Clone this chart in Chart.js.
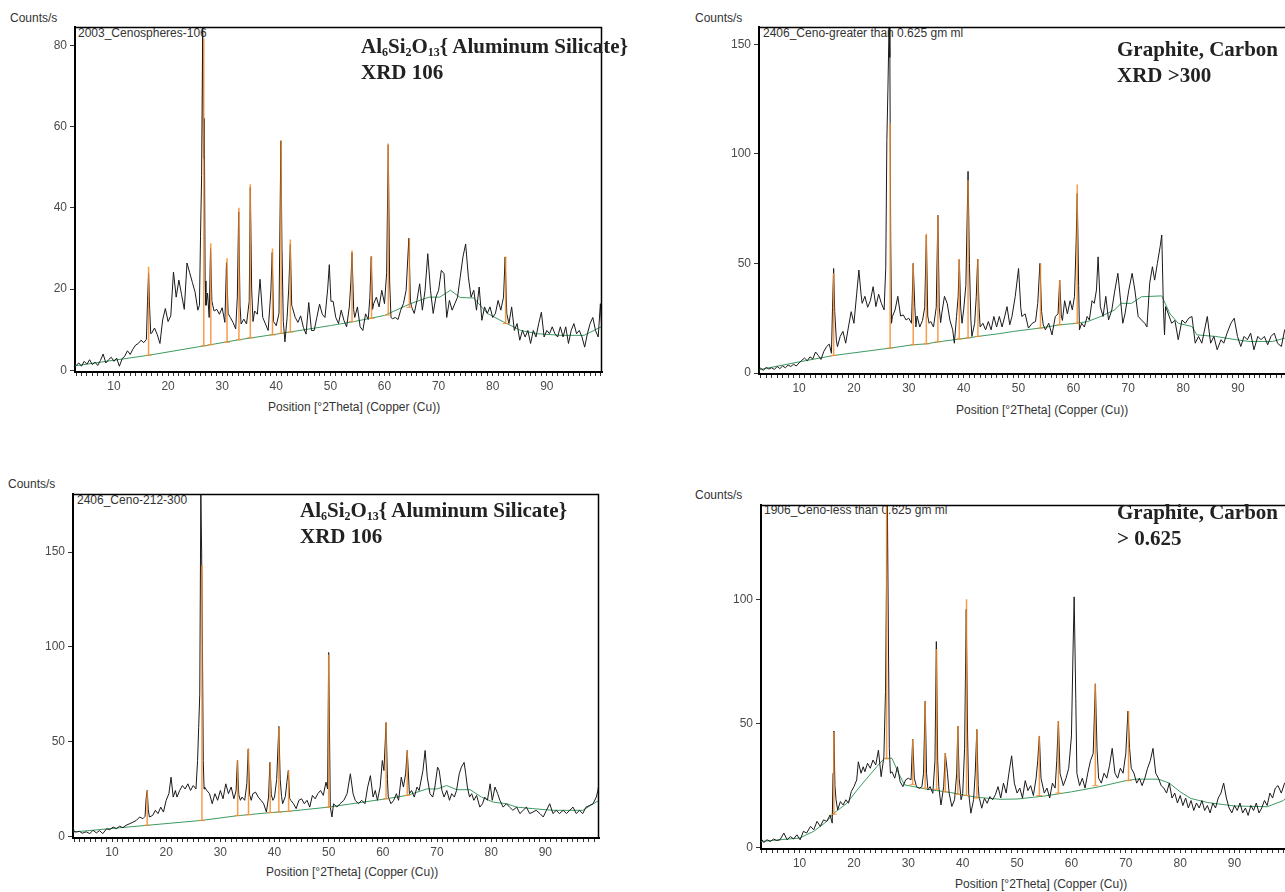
<!DOCTYPE html>
<html>
<head>
<meta charset="utf-8">
<script src="https://cdn.jsdelivr.net/npm/chart.js@4.4.1/dist/chart.umd.min.js"></script>
<style>
  body { margin: 0; width: 1285px; height: 892px; overflow: hidden; background: #fff; font-family: 'Liberation Sans', Arial, sans-serif; }
  .painel { position: absolute; z-index: 2; }
  .rotulo { position: absolute; font-size: 12px; line-height: 14px; color: #333; white-space: nowrap; z-index: 1; }
  .fase { position: absolute; font-family: 'Liberation Serif', 'Times New Roman', serif; font-weight: bold; font-size: 21px; line-height: 26px; color: #222; white-space: nowrap; z-index: 3; }
  .fase sub { font-size: 12px; line-height: 0; vertical-align: -3px; }
</style>
</head>
<body>

<div class="rotulo" style="left:10px; top:11px;">Counts/s</div>
<div class="rotulo" style="left:78px; top:26px;">2003_Cenospheres-106</div>
<div class="rotulo" style="left:268px; top:400px;">Position [°2Theta] (Copper (Cu))</div>
<div class="fase" style="left:361px; top:33px;">Al<sub>6</sub>Si<sub>2</sub>O<sub>13</sub>{ Aluminum Silicate}<br>XRD 106</div>

<div class="rotulo" style="left:695px; top:11px;">Counts/s</div>
<div class="rotulo" style="left:763px; top:26px;">2406_Ceno-greater than 0.625 gm ml</div>
<div class="rotulo" style="left:956px; top:403px;">Position [°2Theta] (Copper (Cu))</div>
<div class="fase" style="left:1117px; top:36px;">Graphite, Carbon<br>XRD &gt;300</div>

<div class="rotulo" style="left:8px; top:477px;">Counts/s</div>
<div class="rotulo" style="left:77px; top:493px;">2406_Ceno-212-300</div>
<div class="rotulo" style="left:266px; top:865px;">Position [°2Theta] (Copper (Cu))</div>
<div class="fase" style="left:300px; top:497px;">Al<sub>6</sub>Si<sub>2</sub>O<sub>13</sub>{ Aluminum Silicate}<br>XRD 106</div>

<div class="rotulo" style="left:695px; top:488px;">Counts/s</div>
<div class="rotulo" style="left:764px; top:503px;">1906_Ceno-less than 0.625 gm ml</div>
<div class="rotulo" style="left:955px; top:877px;">Position [°2Theta] (Copper (Cu))</div>
<div class="fase" style="left:1117px; top:499px;">Graphite, Carbon<br>&gt; 0.625</div>

<script>
// ==================== DIFFRACTOGRAMS ====================
// scan = [2theta, counts/s], background = [2theta, counts/s], sticks = reference peak lines

// --- 2003_Cenospheres-106 ---
const scan1 = [[2.8,1.5],[3.0,1.2],[3.5,1.8],[4.0,1.0],[4.5,2.2],[5.0,1.5],[5.5,2.6],[6.0,1.4],[6.5,2.0],[7.0,1.2],[7.5,2.4],[8.0,4.0],[8.5,1.8],[9.0,2.6],[9.5,3.2],[10.0,2.2],[10.5,3.0],[11.0,1.0],[11.5,2.8],[12.0,3.5],[12.5,4.8],[13.0,3.9],[13.5,5.2],[14.0,6.2],[14.5,6.6],[15.0,7.4],[15.5,6.8],[16.0,7.6],[16.2,17],[16.4,24],[16.6,15],[16.8,9],[17.0,9.2],[17.5,10.4],[18.0,8.8],[18.5,6.6],[19.0,12.4],[19.5,15.2],[20.0,12.0],[20.5,13.4],[21.0,24.2],[21.5,18.0],[22.0,22.2],[22.5,18.6],[23.0,15.0],[23.5,26.4],[24.0,24.0],[24.5,21.6],[25.0,19.2],[25.5,14.8],[25.8,16],[26.0,33],[26.2,48],[26.4,84.5],[26.55,52],[26.7,62],[26.85,22],[27.0,16],[27.3,19],[27.6,13],[27.85,30],[28.1,17],[28.5,14.6],[29.0,15],[29.5,13.8],[30.0,15.4],[30.5,11.8],[30.8,26.5],[31.1,14],[31.5,13],[32.0,11.8],[32.5,10.2],[32.8,18],[33.05,39],[33.3,16],[33.5,11.4],[34.0,12.6],[34.5,11.4],[35.0,17],[35.2,45],[35.45,20],[35.7,12],[36.0,14.6],[36.5,13.8],[37.0,22.4],[37.5,13],[38.0,11.4],[38.5,9.8],[39.0,19.5],[39.25,29],[39.5,12],[40.0,11],[40.5,14],[40.85,56.5],[41.05,30],[41.3,12],[41.6,7],[42.0,13],[42.3,20],[42.6,31],[42.85,16],[43.0,15.4],[43.5,13],[44.0,11.8],[44.5,13.4],[45.0,10.6],[45.5,8.9],[46.0,16.7],[46.5,9.8],[47.0,9.8],[47.5,13],[48.0,16.3],[48.5,13.8],[49.0,13],[49.5,20],[49.8,26],[50.1,17],[50.5,17],[51.0,13],[51.5,11.5],[52.0,14.8],[52.5,12.3],[53.0,10.7],[53.5,15.6],[53.8,22],[54.0,29],[54.3,15],[54.5,13],[55.0,15.6],[55.5,10.7],[56.0,9.8],[56.5,13.9],[57.0,12.5],[57.3,18],[57.55,28],[57.8,15],[58.0,16.4],[58.5,18],[59.0,15.6],[59.5,19.7],[60.0,16.4],[60.4,24],[60.7,55.5],[60.95,22],[61.2,13],[61.5,12.7],[62.0,13],[62.5,12.5],[63.0,14.8],[63.5,16.4],[64.0,19.7],[64.5,32.5],[64.8,17],[65.0,15.6],[65.5,14],[66.0,17.2],[66.5,21.3],[67.0,14.8],[67.5,19.7],[68.0,28.7],[68.5,19.7],[69.0,14],[69.5,18],[70.0,19.7],[70.5,24.6],[71.0,23.8],[71.5,13],[72.0,17.2],[72.5,14.8],[73.0,16.4],[73.5,18],[74.0,23],[74.5,27.9],[75.0,31.1],[75.5,23],[76.0,18],[76.5,19.7],[77.0,14.8],[77.5,20.5],[78.0,12.3],[78.5,15.6],[79.0,14],[79.5,15.6],[80.0,13],[80.5,14],[81.0,17.2],[81.5,14.8],[82.0,18],[82.3,27.9],[82.6,14],[83.0,11.5],[83.5,15.6],[84.0,9.8],[84.5,11.5],[85.0,7.4],[85.5,9.8],[86.0,8.2],[86.5,9.8],[87.0,6.6],[87.5,9.8],[88.0,8.2],[88.5,11.5],[89.0,14.3],[89.5,8.2],[90.0,9.8],[90.5,9],[91.0,10.7],[91.5,9],[92.0,8.2],[92.5,10.7],[93.0,8.2],[93.5,10.7],[94.0,6.6],[94.5,9.8],[95.0,11.5],[95.5,9],[96.0,9.8],[96.5,8.2],[97.0,5.7],[97.5,9],[98.0,11.5],[98.5,13],[99.0,9.8],[99.5,8.2],[99.9,16.4],[100.2,9]];
const background1 = [[2.8,1.1],[16.4,3.7],[26.6,6.0],[33.0,7.5],[41.0,9.1],[50.0,11.0],[54.4,12.0],[60.0,13.5],[64.8,16.4],[68.2,18.0],[70.2,18.0],[72.2,19.7],[74.0,17.9],[76.5,17.8],[79.0,14.0],[82.0,11.9],[85.2,9.8],[88.3,9.0],[92.6,8.6],[96.9,8.6],[100.2,10.8]];
const sticksPos1 = [16.4, 26.6, 27.9, 30.9, 33.1, 35.2, 39.3, 40.9, 42.6, 54.0, 57.6, 60.7, 64.6, 82.4];
const sticksBase1 = [3.7, 6.0, 6.3, 6.9, 7.5, 8.0, 8.7, 9.1, 9.4, 12.0, 12.8, 13.6, 15.5, 11.5];
const sticksTop1 = [25.5, 81.6, 31.3, 27.6, 40.0, 45.8, 30.0, 56.5, 32.2, 29.5, 28.0, 55.8, 32.5, 28.0];

// --- 2406_Ceno-greater than 0.625 gm ml ---
const scan2 = [[2.7,1.5],[3.0,2.2],[3.5,1.2],[4.0,2.6],[4.5,1.8],[5.0,2.4],[5.5,1.6],[6.0,3.0],[6.5,2.0],[7.0,3.2],[7.5,2.4],[8.0,3.6],[8.5,3.0],[9.0,4.0],[9.5,3.2],[10.0,4.6],[10.5,5.8],[11.0,6.8],[11.5,5.6],[12.0,7.4],[12.5,6.4],[13.0,9.6],[13.5,8.0],[14.0,6.2],[14.5,9.8],[15.0,12.0],[15.5,13.2],[15.9,9],[16.1,30],[16.3,47.7],[16.5,28],[16.8,15],[17.0,12],[17.5,16.7],[18.0,19],[18.5,13.6],[19.0,21],[19.5,28],[20.0,22.7],[20.5,36],[20.9,47],[21.3,36],[21.5,31.8],[22.0,35],[22.5,30],[23.0,33],[23.5,39.4],[24.0,30.3],[24.5,36],[25.0,31.8],[25.5,28.8],[25.8,48],[26.0,106],[26.2,130],[26.4,159],[26.55,144],[26.7,62],[26.85,22.7],[27.0,25.7],[27.5,28.8],[28.0,35],[28.5,26],[29.0,26.5],[29.5,24.2],[30.0,25],[30.5,22.7],[30.8,50],[31.1,30],[31.3,21],[31.5,26],[32.0,21],[32.5,24],[32.9,30],[33.2,63],[33.45,26],[33.7,22.7],[34.0,23.5],[34.5,21],[35.0,30],[35.3,72],[35.55,30],[35.8,23],[36.0,27],[36.5,35],[37.0,31.8],[37.5,24],[38.0,19.7],[38.3,13.6],[38.7,25.8],[39.0,35],[39.2,51.8],[39.45,30],[39.7,22.7],[40.0,28.8],[40.4,40],[40.8,92],[41.05,50],[41.3,25],[41.5,16.7],[42.0,22.7],[42.3,35],[42.55,52],[42.8,30],[43.0,21],[43.5,22.7],[44.0,19.7],[44.5,23.5],[45.0,19.7],[45.5,25.8],[46.0,21],[46.5,25.8],[47.0,21],[47.5,26],[47.9,30.3],[48.4,22],[48.8,25.8],[49.4,35],[50.0,47.7],[50.4,30],[50.6,25.8],[51.2,27],[51.8,20.5],[52.5,22.7],[53.1,23.5],[53.5,31.8],[53.9,50],[54.2,28],[54.5,22],[54.9,19.7],[55.5,22.7],[56.1,17.4],[56.7,25.8],[57.2,27],[57.5,42.4],[57.8,26],[58.0,24],[58.4,33],[58.9,27],[59.4,33],[59.8,28.8],[60.2,35],[60.5,60],[60.7,82],[60.95,40],[61.1,19.7],[61.5,22.7],[62.0,21],[62.5,25.8],[62.9,24.2],[63.4,33],[63.8,31.8],[64.2,37.9],[64.5,53],[64.9,30.3],[65.4,25.8],[65.9,35],[66.4,24.2],[67.0,28.8],[67.5,37],[68.1,45.5],[68.6,33],[69.0,22.7],[69.4,27],[70.1,37.9],[70.7,45.5],[71.2,37.9],[71.8,25.8],[72.4,24.2],[73.0,22.7],[73.4,21],[73.9,41],[74.4,48.5],[74.8,42.4],[75.3,50],[75.8,57.6],[76.1,63],[76.4,30],[76.6,17.4],[76.8,30.3],[77.3,27],[77.9,22.7],[78.5,24],[79.1,15.2],[79.8,24.2],[80.4,22.7],[81.0,25],[81.6,25.8],[82.2,13.6],[82.8,16.7],[83.4,13.6],[84.4,25.8],[85.0,13.6],[85.6,16.7],[86.2,10.6],[86.9,15.2],[87.4,13.6],[88.0,18.2],[88.7,22.7],[89.3,25],[89.9,16.7],[90.5,12.1],[91.1,16.7],[91.7,15.2],[92.3,18.2],[92.9,10.6],[93.6,16.7],[94.2,15.2],[94.8,16.7],[95.4,12.9],[96.0,16.7],[96.6,18.2],[97.2,13.6],[97.9,12.1],[98.5,19.7],[99.1,18.2],[99.6,15],[100.2,17]];
const background2 = [[2.7,1.5],[10.5,5.3],[16.3,8.0],[26.7,11.4],[30.8,12.9],[33.2,13.3],[35.3,14.2],[39.2,15.5],[40.8,16.0],[42.6,16.7],[46.6,18.0],[49.1,19.0],[53.9,20.5],[57.5,22.0],[60.7,22.7],[62.6,23.5],[65.0,25.8],[67.5,28.8],[68.7,31.8],[70.6,31.8],[72.4,34.8],[76.1,35.2],[77.6,27.0],[79.1,22.7],[81.6,21.2],[82.5,17.4],[85.9,16.7],[89.6,15.2],[92.0,14.4],[96.3,14.4],[98.5,15.9],[100.2,19.7]];
const sticksPos2 = [16.3, 26.6, 30.8, 33.2, 35.3, 39.2, 40.8, 42.6, 54.0, 57.5, 60.7];
const sticksBase2 = [8.0, 11.4, 12.9, 13.3, 14.2, 15.5, 16.0, 16.7, 20.5, 22.0, 22.7];
const sticksTop2 = [45.5, 114, 50, 63.6, 72, 52, 88, 52, 50, 42.4, 86];

// --- 2406_Ceno-212-300 ---
const scan3 = [[2.8,5],[3.0,2.5],[3.4,2.3],[4.0,2.6],[4.5,1.6],[5.0,2.2],[5.3,2.3],[5.9,1.4],[6.5,3.2],[7.1,1.8],[7.7,3.0],[8.3,1.4],[9.0,4.0],[9.6,3.5],[10.2,4.9],[10.8,4.0],[11.4,5.3],[12.0,4.6],[12.6,5.8],[13.3,6.7],[13.9,7.5],[14.5,8.4],[15.1,10.2],[15.7,9.3],[16.1,10.5],[16.3,20],[16.5,24.2],[16.7,14],[16.9,10.2],[17.5,11],[18.0,13.7],[18.5,12],[19.0,15.4],[19.5,12.8],[20.0,19],[20.5,22.5],[20.9,31.2],[21.3,20.7],[21.7,24.2],[22.0,20.7],[22.5,24.2],[23.0,26.8],[23.5,25],[24.0,27.7],[24.5,24.2],[25.0,26.8],[25.5,25],[25.8,40],[26.0,57.5],[26.2,75],[26.4,181],[26.55,150],[26.7,100],[26.85,40],[27.0,25],[27.1,26],[27.5,24.2],[28.0,22.5],[28.5,17.2],[29.0,22.5],[29.5,19],[30.0,24.2],[30.5,19.8],[31.0,27.7],[31.5,22.5],[32.0,26],[32.5,19.8],[32.9,24],[33.15,40],[33.4,22],[33.7,19],[34.0,20.7],[34.5,19],[34.9,28],[35.15,46],[35.4,22],[35.7,19],[36.0,22.5],[36.5,23.3],[37.0,20.7],[37.5,19],[38.0,17.2],[38.5,12.8],[38.9,20.7],[39.15,39],[39.4,22],[39.7,19],[40.0,20.7],[40.4,30],[40.8,58],[41.05,30],[41.3,21],[41.5,17.2],[42.0,21],[42.3,29],[42.55,34.7],[42.8,20],[43.0,19],[43.5,17.2],[44.0,14.6],[44.5,19],[45.0,19.8],[45.5,17.2],[46.0,19],[46.5,15.4],[47.0,21.6],[47.5,19.8],[48.0,22.5],[48.5,24.2],[49.0,21.6],[49.5,28.6],[49.8,25],[50.0,97],[50.3,15.4],[50.6,10.2],[50.9,17.2],[51.5,15.4],[52.1,17.2],[52.8,19],[53.4,22.5],[54.0,33],[54.5,22.5],[54.9,19],[55.5,17.2],[56.1,19],[56.7,17.2],[57.2,26],[57.7,32],[58.2,20.7],[58.6,24.2],[59.0,19],[59.5,26],[59.9,40],[60.2,34.7],[60.6,60],[60.85,30],[61.0,20.7],[61.5,17.2],[62.0,19],[62.5,22.5],[62.9,19],[63.4,31.2],[63.8,26],[64.2,33],[64.5,45.3],[64.9,22.5],[65.3,24.2],[65.8,20.7],[66.3,26],[66.7,24.2],[67.4,34.7],[67.8,45.3],[68.2,31.2],[68.7,22.5],[69.2,20.7],[69.6,26],[70.1,36.5],[70.4,34.7],[70.9,24.2],[71.3,20.7],[71.8,24.2],[72.3,19],[72.7,22.5],[73.2,20.7],[73.6,24.2],[74.1,33],[74.5,36.5],[75.0,39],[75.3,33],[75.6,26],[76.0,20.7],[76.4,22.5],[76.8,19],[77.3,21.6],[77.9,15.4],[78.4,17.2],[78.8,20.7],[79.3,19],[79.8,27.7],[80.2,19],[80.7,26],[81.2,22.5],[81.6,19],[82.2,15.4],[82.8,17.2],[83.4,15.4],[84.0,13.7],[84.7,15.4],[85.3,12],[85.9,13.7],[86.5,15.4],[87.1,12],[87.7,12.8],[88.3,13.7],[89.0,12],[89.6,10.2],[90.2,13.7],[90.8,17.2],[91.4,12],[92.0,13.7],[92.6,12],[93.3,13.7],[93.9,12],[94.5,13.7],[95.1,15.4],[95.7,12],[96.3,13.7],[96.9,12],[97.5,15.4],[98.2,16.3],[98.8,17.2],[99.4,20.7],[99.7,24.2],[99.9,28]];
const background3 = [[2.9,2.3],[16.5,5.8],[26.6,8.4],[33.2,10.9],[35.2,11.4],[39.2,12.5],[40.8,12.8],[42.6,13.2],[50.0,15.4],[60.6,19.8],[64.5,21.6],[68.1,25.0],[70.0,25.0],[71.8,26.8],[73.6,24.6],[76.1,24.6],[78.2,20.7],[80.4,18.0],[82.8,17.2],[84.7,15.4],[87.7,14.6],[91.4,13.7],[96.9,13.7],[99.9,19.0]];
const sticksPos3 = [16.5, 26.6, 33.2, 35.2, 39.2, 40.8, 42.6, 50.0, 60.6, 64.5];
const sticksBase3 = [5.8, 8.4, 10.9, 11.4, 12.5, 12.8, 13.2, 15.4, 19.8, 21.6];
const sticksTop3 = [24.2, 143, 40, 46.5, 39, 57.5, 34.7, 96, 60.2, 45.3];

// --- 1906_Ceno-less than 0.625 gm ml ---
const scan4 = [[2.9,3.5],[3.1,3.2],[3.4,2.1],[4.0,3.2],[4.6,2.5],[5.2,3.5],[5.8,2.9],[6.4,3.2],[7.1,5.9],[7.7,3.2],[8.3,4.5],[8.9,3.5],[9.5,5.2],[10.1,3.2],[10.7,6.6],[11.3,5.9],[12.0,8.6],[12.6,7.2],[13.2,10.6],[13.8,8.6],[14.4,11.2],[15.0,10.6],[15.6,13.2],[16.0,9.9],[16.15,30],[16.3,47],[16.5,25],[16.7,19.3],[17.0,15.2],[17.5,18.6],[18.0,17.2],[18.5,19.3],[19.0,17.9],[19.5,22.6],[20.0,24.6],[20.5,27.3],[20.8,34.6],[21.3,30],[21.7,32.6],[22.0,30.6],[22.5,34],[23.0,32],[23.5,35.3],[24.0,33.3],[24.5,39.3],[25.0,28.6],[25.5,36.6],[25.8,63],[26.0,110],[26.15,138],[26.35,80],[26.5,40],[26.7,30],[27.0,30.6],[27.5,28],[28.0,32.6],[28.5,26.6],[29.0,24.6],[29.5,27.3],[30.0,28],[30.5,27.3],[30.8,43.7],[31.1,28],[31.5,24.6],[32.0,23.9],[32.5,24.6],[32.8,30],[33.1,59],[33.35,30],[33.6,23.3],[34.0,24.6],[34.5,21.9],[34.9,35],[35.15,83],[35.4,35],[35.6,24.6],[36.0,17.2],[36.5,24.6],[36.8,38],[37.2,30],[37.5,22],[38.0,16.6],[38.5,19.3],[38.9,30],[39.1,49],[39.35,28],[39.7,19.3],[40.0,21.9],[40.35,40],[40.65,96],[40.9,45],[41.1,22],[41.5,13.9],[42.0,19.3],[42.3,30],[42.6,47.6],[42.85,25],[43.0,20.6],[43.5,15.9],[44.0,19.9],[44.5,17.9],[45.0,20.6],[45.5,19.3],[46.0,21.3],[46.5,24.6],[47.0,20],[47.5,26],[48.0,22],[48.5,30],[49.0,37],[49.5,26],[50.0,22],[50.5,24],[51.0,20],[51.5,27],[52.0,23],[52.5,25],[53.0,21],[53.5,28],[53.8,35],[54.1,45],[54.4,28],[55.0,22],[55.5,24],[56.0,20],[56.5,26],[57.0,24],[57.3,35],[57.6,51],[57.9,30],[58.5,25],[59.0,28],[59.5,32],[60.0,45],[60.3,80],[60.5,101],[60.8,60],[61.0,30],[61.5,25],[62.0,28],[62.5,24],[63.0,30],[63.5,35],[64.0,38],[64.4,66],[64.7,40],[65.0,28],[65.5,26],[66.0,30],[66.5,28],[67.0,33],[67.5,40],[68.0,30],[68.5,28],[69.0,32],[69.5,30],[70.0,38],[70.4,55],[70.7,40],[71.0,32],[71.5,30],[72.0,26],[72.5,28],[73.0,25],[73.5,28],[74.0,32],[74.5,35],[75.0,40],[75.5,30],[76.0,28],[76.5,25],[77.0,24],[77.5,22],[78.0,26],[78.5,20],[79.0,22],[79.5,18],[80.0,21],[80.5,17],[81.0,20],[81.5,16],[82.0,19],[82.5,15],[83.0,18],[83.5,16],[84.0,19],[84.5,15],[85.0,17],[85.5,14],[86.0,18],[86.5,16],[87.0,20],[87.5,22],[88.0,26],[88.5,20],[89.0,16],[89.5,14],[90.0,17],[90.5,15],[91.0,18],[91.5,14],[92.0,16],[92.5,13],[93.0,17],[93.5,15],[94.0,18],[94.5,14],[95.0,16],[95.5,19],[96.0,17],[96.5,22],[97.0,20],[97.5,24],[98.0,25],[98.6,22],[99.2,26],[100.2,24]];
const background4 = [[2.9,2.5],[6.4,3.2],[10.0,3.9],[12.6,6.6],[15.0,10.6],[16.3,13.9],[18.7,17.9],[20.6,23.3],[22.4,28.0],[24.2,32.6],[25.6,36.0],[27.0,36.0],[28.2,30.0],[29.3,25.3],[31.0,24.6],[33.0,23.7],[35.2,23.0],[37.8,22.2],[40.0,21.3],[42.6,20.3],[46.9,19.5],[50.0,19.6],[55.0,20.8],[60.0,22.5],[65.0,24.5],[70.0,27.0],[72.0,27.6],[76.0,27.6],[78.0,26.0],[80.0,22.5],[82.0,19.8],[85.0,18.2],[90.0,16.8],[96.0,16.5],[99.0,19.0],[100.2,22.0]];
const sticksPos4 = [16.3, 26.0, 30.8, 33.1, 35.2, 36.8, 39.1, 40.7, 42.6, 54.1, 57.6, 64.4, 70.5];
const sticksBase4 = [13.5, 35.8, 25.5, 24.0, 23.5, 22.5, 21.5, 21.0, 20.0, 21.0, 22.0, 25.0, 27.0];
const sticksTop4 = [46.7, 138, 43.7, 59, 80, 38, 49, 100, 47.6, 45, 51, 66, 55];

// ==================== PANEL LAYOUT ====================
// plot area in page pixels + axis ranges
const paineis = [
    { area: [75, 26, 602, 372], x: [2.8, 100.2], y: [-0.42, 84.5], passoY: 20,
      scan: scan1, fundo: background1, pos: sticksPos1, base: sticksBase1, topo: sticksTop1 },
    { area: [759, 26, 1294, 374], x: [2.7, 100.2], y: [-0.45, 157.9], passoY: 50,
      scan: scan2, fundo: background2, pos: sticksPos2, base: sticksBase2, topo: sticksTop2 },
    { area: [73, 493, 599, 838], x: [2.8, 99.9], y: [-0.9, 180.7], passoY: 50,
      scan: scan3, fundo: background3, pos: sticksPos3, base: sticksBase3, topo: sticksTop3 },
    { area: [761, 504, 1290, 849], x: [2.9, 100.2], y: [-0.52, 138], passoY: 50,
      scan: scan4, fundo: background4, pos: sticksPos4, base: sticksBase4, topo: sticksTop4 }
];

const EIXO_Y = 50;   // width reserved for y labels
const EIXO_X = 30;   // height reserved for x labels
const PAD_TOPO = 4;
const PAD_DIR = 6;

const fonteTicks = { family: "'Liberation Sans', Arial, sans-serif", size: 12 };

// pairs -> {x, y}
function pontos(pares) {
    return pares.map(p => ({ x: p[0], y: p[1] }));
}

// vertical stick from background to peak top, broken by a null
function hastes(pos, base, topo) {
    const out = [];
    pos.forEach((x, i) => {
        out.push({ x: x, y: base[i] }, { x: x, y: topo[i] }, { x: x, y: null });
    });
    return out;
}

// top and right edges of the plot frame
const moldura = {
    id: 'moldura',
    afterDatasetsDraw(chart) {
        const { ctx, chartArea: a } = chart;
        ctx.save();
        ctx.strokeStyle = '#000';
        ctx.lineWidth = 1.5;
        ctx.beginPath();
        ctx.moveTo(a.left, a.top + 0.5);
        ctx.lineTo(a.right - 0.5, a.top + 0.5);
        ctx.lineTo(a.right - 0.5, a.bottom);
        ctx.stroke();
        ctx.restore();
    }
};

function criarPainel(p) {
    const [l, t, r, b] = p.area;
    const div = document.createElement('div');
    div.className = 'painel';
    div.style.left = (l - EIXO_Y) + 'px';
    div.style.top = (t - PAD_TOPO) + 'px';
    div.style.width = (r - l + EIXO_Y + PAD_DIR) + 'px';
    div.style.height = (b - t + EIXO_X + PAD_TOPO) + 'px';
    const canvas = document.createElement('canvas');
    div.appendChild(canvas);
    document.body.appendChild(div);

    new Chart(canvas, {
        type: 'line',
        data: {
            datasets: [
                {
                    data: hastes(p.pos, p.base, p.topo),
                    borderColor: 'rgba(245, 140, 45, 0.85)',
                    borderWidth: 1.5,
                    spanGaps: false,
                    pointStyle: 'line',
                    pointRadius: ctx => (ctx.dataIndex % 3 === 0 ? 3 : 0),
                    pointBorderColor: 'rgba(245, 140, 45, 0.9)',
                    pointBorderWidth: 1,
                    order: 1
                },
                {
                    data: pontos(p.scan),
                    borderColor: '#1a1a1a',
                    borderWidth: 1,
                    pointRadius: 0,
                    order: 2
                },
                {
                    data: pontos(p.fundo),
                    borderColor: '#3c9a62',
                    borderWidth: 1,
                    pointRadius: 0,
                    order: 3
                }
            ]
        },
        options: {
            responsive: true,
            maintainAspectRatio: false,
            animation: false,
            events: [],
            layout: { padding: { top: PAD_TOPO, right: PAD_DIR, left: 0, bottom: 0 } },
            elements: { line: { tension: 0 } },
            plugins: { legend: { display: false }, tooltip: { enabled: false } },
            scales: {
                x: {
                    type: 'linear',
                    min: p.x[0],
                    max: p.x[1],
                    offset: false,
                    afterFit: s => {
                        s.height = EIXO_X;
                        s.paddingLeft = 0;
                        s.paddingRight = 0;
                    },
                    border: { color: '#000', width: 2 },
                    grid: { drawOnChartArea: false, drawTicks: true, tickLength: 4, color: '#333' },
                    ticks: {
                        stepSize: 1,
                        includeBounds: false,
                        autoSkip: false,
                        maxTicksLimit: 1000,
                        maxRotation: 0,
                        padding: 3,
                        color: '#4a4a4a',
                        font: fonteTicks,
                        callback: v => {
                            if (!Number.isInteger(v)) return null;
                            return (v % 10 === 0 && v >= 10 && v <= 90) ? String(v) : '';
                        }
                    }
                },
                y: {
                    min: p.y[0],
                    max: p.y[1],
                    afterFit: s => {
                        s.width = EIXO_Y;
                        s.paddingTop = 0;
                        s.paddingBottom = 0;
                    },
                    border: { color: '#000', width: 2 },
                    grid: { drawOnChartArea: false, drawTicks: true, tickLength: 5, color: '#333' },
                    ticks: {
                        stepSize: p.passoY,
                        includeBounds: false,
                        autoSkip: false,
                        padding: 3,
                        color: '#4a4a4a',
                        font: fonteTicks,
                        callback: v => (Number.isInteger(v) && v % p.passoY === 0 ? String(v) : null)
                    }
                }
            }
        },
        plugins: [moldura]
    });
}

paineis.forEach(criarPainel);
</script>
</body>
</html>
